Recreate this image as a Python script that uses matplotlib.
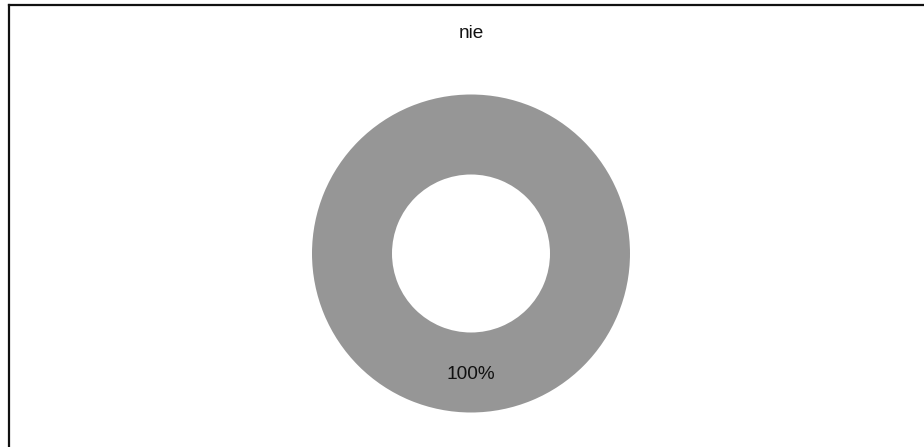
import matplotlib
matplotlib.use("Agg")
import matplotlib.pyplot as plt
from matplotlib.lines import Line2D

plt.rcParams['font.family'] = ['Liberation Sans', 'DejaVu Sans']

title = "nie"
categories = ["nie"]
values = [100]
colors = ["#969696"]

W, H = 924, 447
fig = plt.figure(figsize=(W / 100, H / 100), dpi=100)
ax = fig.add_axes([0, 0, 1, 1])

cx, cy = 471, H - 253.5
outer_r = 159
inner_r = 79

wedges, texts, autotexts = ax.pie(
    values, labels=None, colors=colors, startangle=90, counterclock=False,
    radius=outer_r, center=(cx, cy),
    wedgeprops=dict(width=outer_r - inner_r, linewidth=0),
    autopct=lambda p: f"{p:.0f}%", pctdistance=0.758,
    textprops=dict(fontsize=13.7, color="#111111"),
)
ax.set_xlim(0, W)
ax.set_ylim(0, H)
ax.set_aspect('auto')
ax.axis('off')

ax.text(cx, H - 33, title, ha='center', va='center', fontsize=13.7, color="#111111")

# frame lines (top and left only visible)
fig.add_artist(Line2D([8.5 / W, 1], [1 - 5 / H, 1 - 5 / H], color="#111111", lw=1.6))
fig.add_artist(Line2D([9 / W, 9 / W], [0, 1 - 4.5 / H], color="#111111", lw=1.6))

fig.savefig("out.png", dpi=100)
